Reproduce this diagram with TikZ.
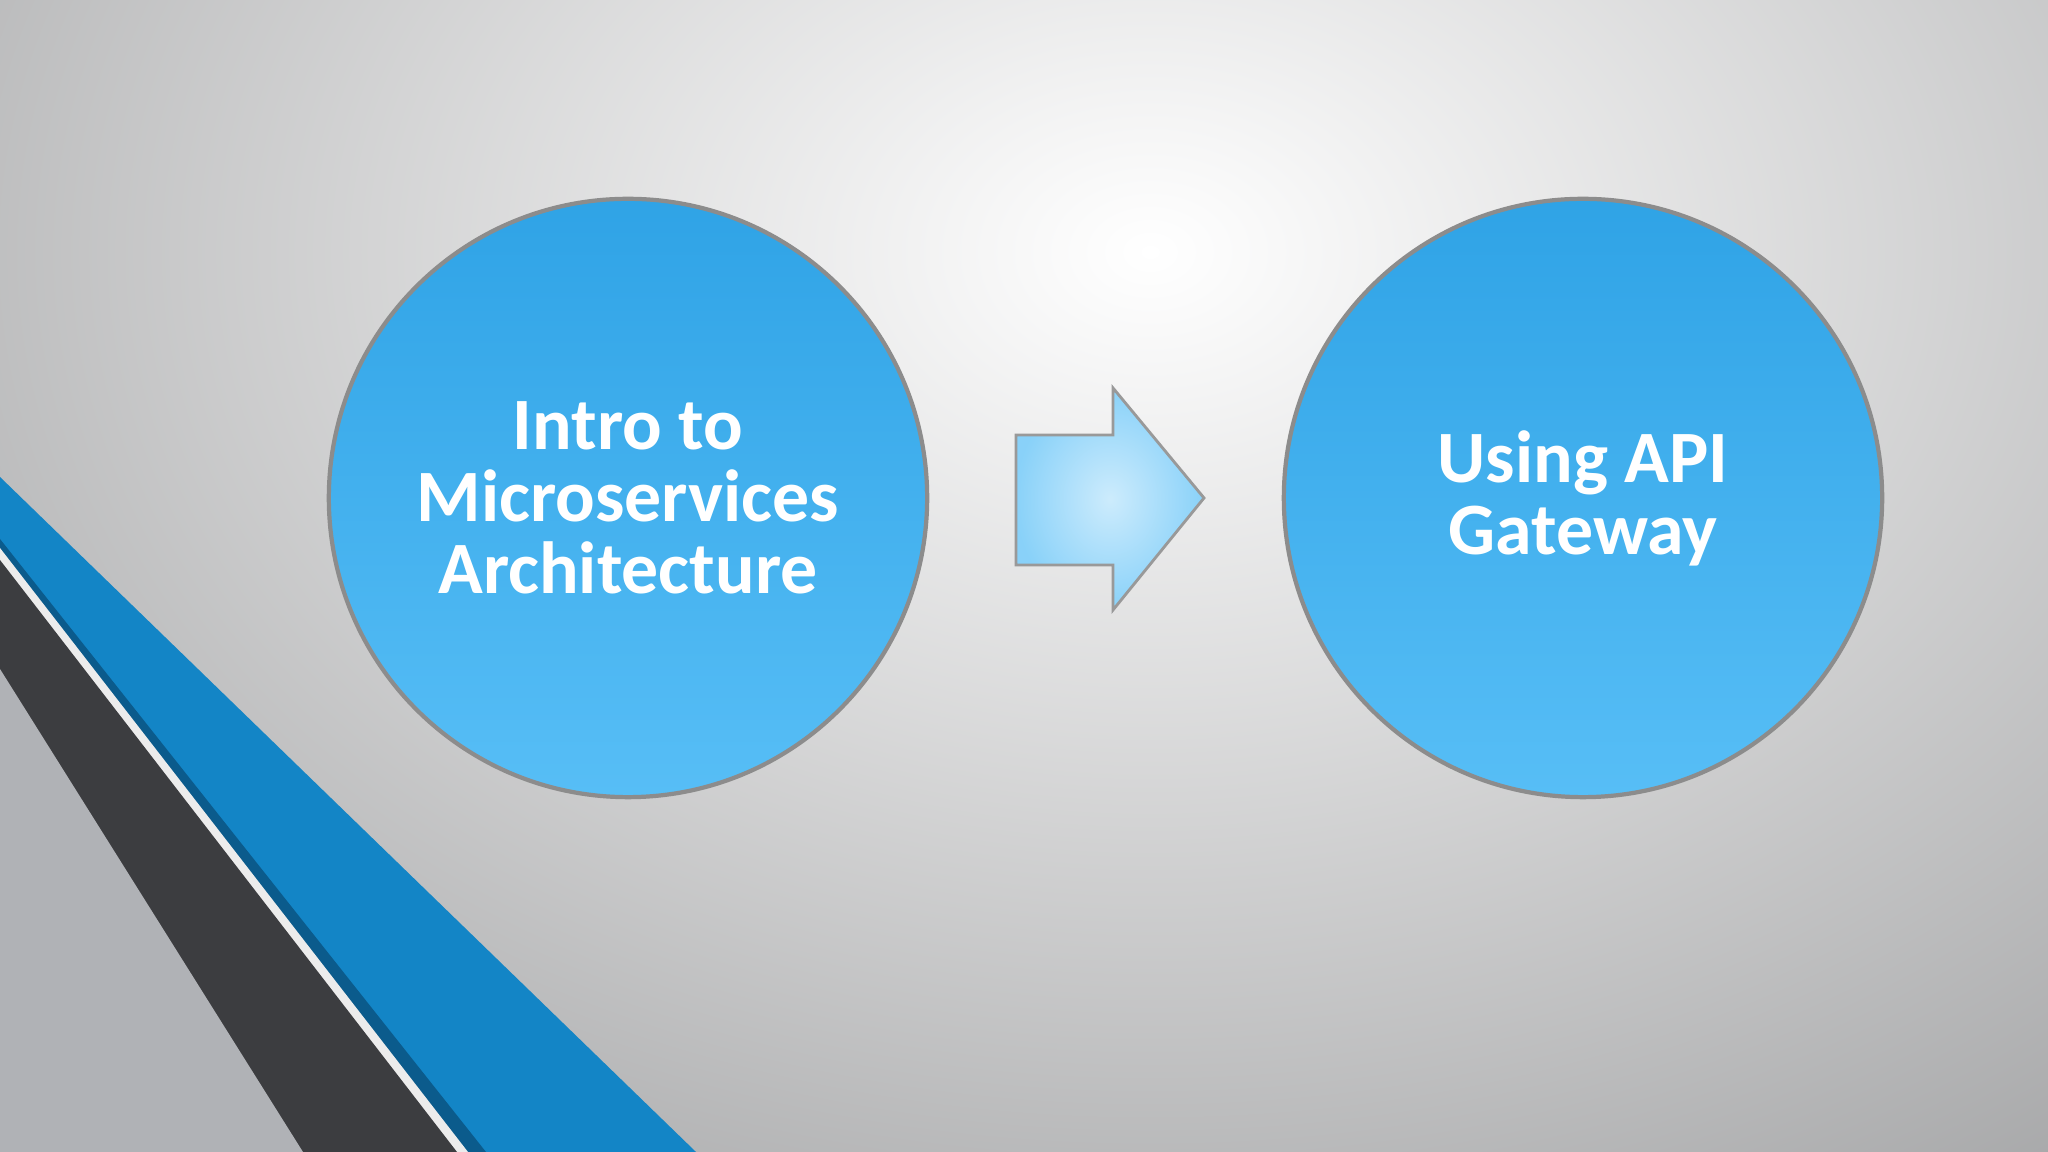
\documentclass[tikz,border=0pt]{standalone}
\usepackage{fontspec}
\setmainfont{Carlito}
\begin{document}
\begin{tikzpicture}[x=0.01cm,y=0.01cm,
  ball/.style={circle,minimum size=5.98cm,inner sep=0pt,top color=cA,bottom color=cB,draw=black!45,line width=1.2pt,text=white,font=\bfseries\fontsize{21}{20.5}\selectfont,align=center}]
\definecolor{cA}{HTML}{2FA3E6}
\definecolor{cB}{HTML}{57BEF6}
\definecolor{bandblue}{HTML}{1385C6}
\definecolor{darkblue}{HTML}{0B5B8C}
\definecolor{darkband}{HTML}{3C3D40}
\definecolor{bggray}{HTML}{C4C6CA}
\useasboundingbox (0,0) rectangle (2048,1152);
\shade[inner color=white,outer color=bggray!55!black] (-1500,-1000) rectangle (3800,2800);
% bands
\fill[bandblue] (0,675) -- (696,0) -- (0,0) -- cycle;
\fill[darkblue] (0,613) -- (486,0) -- (0,0) -- cycle;
\fill[white!85!gray] (0,604) -- (468,0) -- (0,0) -- cycle;
\fill[darkband] (0,592) -- (457,0) -- (0,0) -- cycle;
\fill[bggray!90!black] (0,483) -- (303,0) -- (0,0) -- cycle;
\node[ball] (a) at (628,654) {Intro to\\Microservices\\Architecture};
\node[ball] (b) at (1583,654) {Using API\\Gateway};
\shade[inner color=white!70!cB,outer color=cB!70!white,draw=black!40,line width=0.8pt]
  (1016,587) -- (1113,587) -- (1113,542) -- (1204,654) -- (1113,764) -- (1113,717) -- (1016,717) -- cycle;
\end{tikzpicture}
\end{document}
